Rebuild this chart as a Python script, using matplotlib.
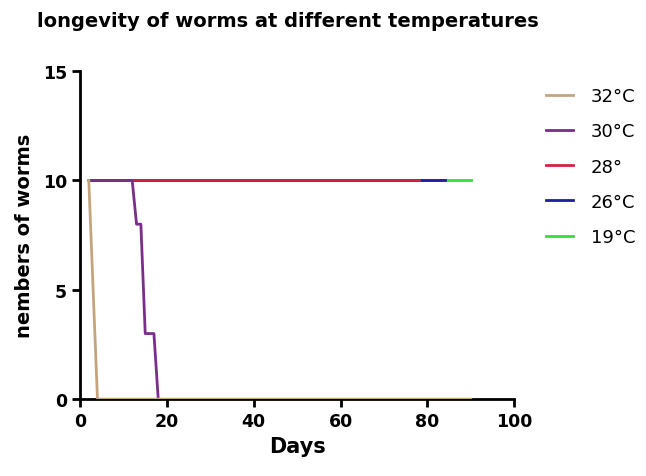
import matplotlib
matplotlib.use('Agg')
import matplotlib.pyplot as plt

days_32 = [2, 4, 90]
worms_32 = [10, 0, 0]
days_30 = [2, 12, 13, 14, 15, 17, 18]
worms_30 = [10, 10, 8, 8, 3, 3, 0]
days_28 = [2, 78]
worms_28 = [10, 10]
days_26 = [2, 84]
worms_26 = [10, 10]
days_19 = [2, 90]
worms_19 = [10, 10]

labels = ['32°C', '30°C', '28°', '26°C', '19°C']
colors = ['#c4a47c', '#7a2d8a', '#d3223f', '#1c1ca6', '#38dd38']
series = [(days_32, worms_32), (days_30, worms_30), (days_28, worms_28),
          (days_26, worms_26), (days_19, worms_19)]
zorders = [6, 5, 4, 3, 2]

fig = plt.figure(figsize=(6.46, 4.77), dpi=100)
ax = fig.add_axes([0.124, 0.161, 0.672, 0.688])

for (d, w), lab, c, z in zip(series, labels, colors, zorders):
    ax.plot(d, w, color=c, lw=2, label=lab, zorder=z)

ax.set_xlim(0, 100)
ax.set_ylim(0, 15)
ax.set_xticks([0, 20, 40, 60, 80, 100])
ax.set_yticks([0, 5, 10, 15])
for s in ['top', 'right']:
    ax.spines[s].set_visible(False)
for s in ['left', 'bottom']:
    ax.spines[s].set_linewidth(2)
ax.tick_params(width=2, length=6, labelsize=12.5, direction='out')
for t in ax.get_xticklabels() + ax.get_yticklabels():
    t.set_fontweight('bold')

ax.set_xlabel('Days', fontsize=15, fontweight='bold')
ax.set_ylabel('nembers of worms', fontsize=14, fontweight='bold', labelpad=6)
fig.text(0.057, 0.955, 'longevity of worms at different temperatures', fontsize=14,
         fontweight='bold', va='center', ha='left')

ax.legend(loc='upper left', bbox_to_anchor=(1.035, 1.0), frameon=False,
          prop={'size': 13}, handlelength=1.5,
          labelspacing=0.95, handletextpad=1.0)

fig.savefig('out.png', dpi=100)
